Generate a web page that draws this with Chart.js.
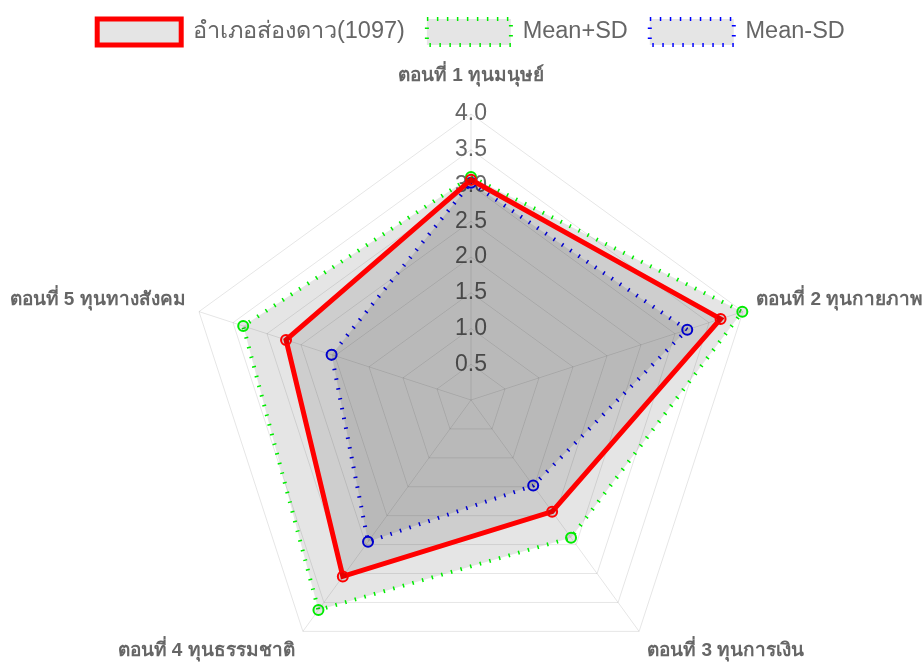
<!DOCTYPE html>
<html>
<head>
<meta charset="utf-8">
<script src="https://cdn.jsdelivr.net/npm/chart.js@4/dist/chart.umd.min.js"></script>
<style>
html,body{margin:0;padding:0;overflow:hidden;background:#fff;}
#wrap{width:942px;height:745px;position:relative;}
</style>
</head>
<body>
<div id="wrap"><canvas id="c" width="942" height="745"></canvas></div>
<script>
const categories = ["ตอนที่ 1 ทุนมนุษย์", "ตอนที่ 2 ทุนกายภาพ", "ตอนที่ 3 ทุนการเงิน", "ตอนที่ 4 ทุนธรรมชาติ", "ตอนที่ 5 ทุนทางสังคม"];
const meanLabel = "อำเภอส่องดาว(1097)";
const meanValues = [3.08, 3.67, 1.93, 3.05, 2.72];
const plusLabel = "Mean+SD";
const plusValues = [3.12, 3.99, 2.38, 3.63, 3.35];
const minusLabel = "Mean-SD";
const minusValues = [3.04, 3.18, 1.48, 2.45, 2.05];
const tickMin = 0, tickMax = 4, tickStep = 0.5;

const FONT = "'Liberation Sans', Arial, 'Noto Sans', sans-serif";
new Chart(document.getElementById('c'), {
  type: 'radar',
  data: {
    labels: categories,
    datasets: [
      {label: meanLabel, data: meanValues, borderColor: 'rgb(255,0,0)', backgroundColor: 'rgba(0,0,0,0.1)', borderWidth: 5, pointRadius: 5, pointBorderWidth: 2, fill: true},
      {label: plusLabel, data: plusValues, borderColor: 'rgb(0,235,0)', backgroundColor: 'rgba(0,0,0,0.1)', borderWidth: 4, borderDash: [1.5, 8.5], pointRadius: 5, pointBorderWidth: 2, fill: true},
      {label: minusLabel, data: minusValues, borderColor: 'rgb(0,0,255)', backgroundColor: 'rgba(0,0,0,0.1)', borderWidth: 4, borderDash: [1.5, 8.5], pointRadius: 5, pointBorderWidth: 2, fill: true}
    ]
  },
  options: {
    responsive: false,
    animation: false,
    layout: {padding: {top: -3, bottom: 0, left: 0, right: 0}},
    plugins: {
      legend: {
        position: 'top',
        labels: {boxWidth: 84, boxHeight: 26, font: {size: 23.5, family: FONT}, color: '#666', padding: 22}
      },
      tooltip: {enabled: false}
    },
    scales: {
      r: {
        min: tickMin, max: tickMax,
        ticks: {stepSize: tickStep, font: {size: 23, family: FONT}, color: '#666', showLabelBackdrop: false,
                backdropPadding: {top: 47.5, bottom: 47.5, left: 2, right: 2},
                callback: v => v.toFixed(1)},
        pointLabels: {font: {size: 19, weight: 'bold', family: FONT, lineHeight: 0.8}, color: '#666',
                      padding: ctx => ctx.index === 0 ? -28.6 : -45},
        grid: {color: 'rgba(0,0,0,0.1)'},
        angleLines: {color: 'rgba(0,0,0,0.1)'}
      }
    }
  }
});
</script>
</body>
</html>
